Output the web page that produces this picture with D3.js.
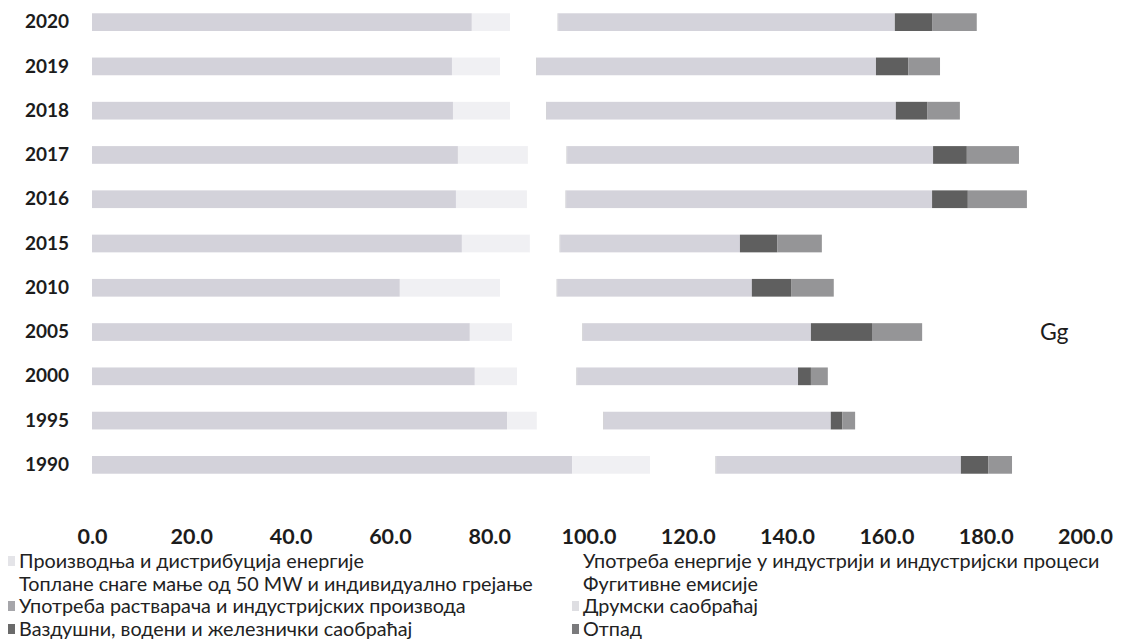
<!DOCTYPE html>
<html>
<head>
<meta charset="utf-8">
<script src="https://cdn.jsdelivr.net/npm/d3@7"></script>
<style>
  html, body { margin: 0; padding: 0; background: #ffffff; }
  svg { display: block; }
</style>
</head>
<body>
<div id="chart"></div>
<script>
// ---- Data (Gg) ----
const years = ["2020", "2019", "2018", "2017", "2016", "2015", "2010", "2005", "2000", "1995", "1990"];

const seriesNames = [
  "Производња и дистрибуција енергије",
  "Употреба енергије у индустрији и индустријски процеси",
  "Топлане снаге мање од 50 MW и индивидуално грејање",
  "Фугитивне емисије",
  "Употреба растварача и индустријских производа",
  "Друмски саобраћај",
  "Ваздушни, водени и железнички саобраћај",
  "Отпад"
];

// values per series, in the order of `years`
const energyProduction   = [76.5, 72.5, 72.7, 73.7, 73.3, 74.5, 62.0, 76.1, 77.1, 83.6, 96.7];
const industryEnergy     = [ 7.7,  9.7, 11.5, 14.1, 14.3, 13.7, 20.2,  8.5,  8.5,  6.0, 15.7];
const smallHeating       = [ 9.2,  6.9,  6.9,  7.4,  7.4,  5.6, 11.0, 13.8, 11.6, 13.0, 12.8];
const fugitive           = [ 0.4,  0.4,  0.4,  0.4,  0.4,  0.4,  0.4,  0.4,  0.4,  0.4,  0.4];
const solvents           = [ 0.1,  0.1,  0.1,  0.1,  0.1,  0.1,  0.1,  0.1,  0.1,  0.1,  0.1];
const roadTransport      = [67.8, 68.3, 70.3, 73.7, 73.7, 36.2, 39.2, 45.9, 44.5, 45.7, 49.3];
const otherTransport     = [ 7.5,  6.5,  6.3,  6.8,  7.2,  7.5,  7.9, 12.3,  2.6,  2.3,  5.5];
const waste              = [ 9.0,  6.4,  6.6, 10.5, 11.9,  9.0,  8.6, 10.1,  3.4,  2.6,  4.8];

const xTicks = [0, 20, 40, 60, 80, 100, 120, 140, 160, 180, 200];
const unitLabel = "Gg";

// ---- Build table ----
const seriesValues = [energyProduction, industryEnergy, smallHeating, fugitive, solvents, roadTransport, otherTransport, waste];
const keys = seriesNames;
const table = years.map((y, i) => {
  const row = { year: y };
  keys.forEach((k, j) => { row[k] = seriesValues[j][i]; });
  return row;
});

const colors = ["#d3d2da", "#f0f0f3", "#ffffff", "#ffffff", "#ababaf", "#d4d3db", "#5f5f5f", "#959597"];
const legendMarkerColors = ["#e4e4e8", "#ffffff", "#ffffff", "#ffffff", "#a6a6aa", "#dedee2", "#6a6a6a", "#7a7a7c"];

// ---- Layout ----
const W = 1131, H = 642;
const svg = d3.select("#chart").append("svg").attr("width", W).attr("height", H);

const x = d3.scaleLinear().domain([0, 200]).range([92, 1085]);
const y = d3.scaleBand().domain(years).range([0, 487]).paddingInner(0.6).paddingOuter(0.3);
const color = d3.scaleOrdinal().domain(keys).range(colors);

const stack = d3.stack().keys(keys);
const stacked = stack(table);

svg.append("g").selectAll("g")
  .data(stacked)
  .join("g")
  .attr("fill", d => color(d.key))
  .selectAll("rect")
  .data(d => d)
  .join("rect")
  .attr("x", d => x(d[0]))
  .attr("y", d => y(d.data.year))
  .attr("width", d => Math.max(0, x(d[1]) - x(d[0])))
  .attr("height", y.bandwidth());

// Y axis (years)
const yAxis = svg.append("g")
  .attr("transform", `translate(${x(0)},0)`)
  .call(d3.axisLeft(y).tickSize(0).tickPadding(23));
yAxis.select(".domain").remove();
yAxis.selectAll("text")
  .attr("font-family", "Lato, 'Open Sans', sans-serif")
  .attr("font-weight", "bold")
  .attr("font-size", 19)
  .attr("fill", "#1c1c1c");

// X axis
const xAxis = svg.append("g")
  .attr("transform", "translate(0,524)")
  .call(d3.axisBottom(x).tickValues(xTicks).tickFormat(d3.format(".1f")).tickSize(0).tickPadding(5));
xAxis.select(".domain").remove();
xAxis.selectAll("text")
  .attr("font-family", "Lato, 'Open Sans', sans-serif")
  .attr("font-weight", "bold")
  .attr("font-size", 21.5)
  .attr("fill", "#1c1c1c");

// Unit label
svg.append("text")
  .attr("x", 1040).attr("y", y("2005") + y.bandwidth() / 2)
  .attr("dy", "0.35em")
  .attr("font-family", "Lato, 'Open Sans', sans-serif")
  .attr("font-size", 23)
  .attr("fill", "#1c1c1c")
  .text(unitLabel);

// Legend (2 columns, row-major)
const legendCols = [8, 572];
const legendRows = [561, 584, 606, 629];
const legend = svg.append("g");
keys.forEach((k, i) => {
  const col = i % 2, row = Math.floor(i / 2);
  const g = legend.append("g").attr("transform", `translate(${legendCols[col]},${legendRows[row]})`);
  g.append("rect").attr("x", 0).attr("y", -5).attr("width", 7).attr("height", 10)
    .attr("fill", legendMarkerColors[i]);
  g.append("text").attr("x", 11).attr("y", 0).attr("dy", "0.35em")
    .attr("font-family", "Lato, 'Open Sans', sans-serif")
    .attr("font-size", 19.8)
    .attr("fill", "#222")
    .text(k);
});
</script>
</body>
</html>
